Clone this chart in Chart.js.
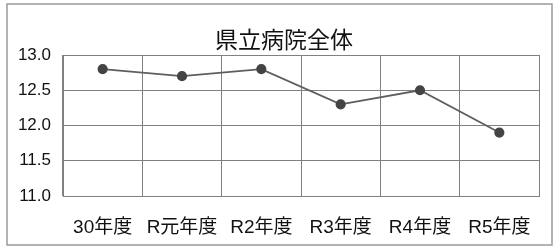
<!DOCTYPE html>
<html>
<head>
<meta charset="utf-8">
<script src="https://cdn.jsdelivr.net/npm/chart.js@4"></script>
<style>
    html, body { margin: 0; padding: 0; background: #fff; }
    #wrap { width: 560px; height: 248px; position: relative; }
</style>
</head>
<body>
<div id="wrap"><canvas id="hospChart" width="560" height="248"></canvas></div>
<script>
const years = ['30年度', 'R元年度', 'R2年度', 'R3年度', 'R4年度', 'R5年度'];
const values = [12.8, 12.7, 12.8, 12.3, 12.5, 11.9];
const yTicks = [11.0, 11.5, 12.0, 12.5, 13.0];
const chartTitle = '県立病院全体';

const FONT = '"Liberation Sans", "Noto Sans CJK JP", sans-serif';

// thin frame around the whole picture + title (sits a bit right of centre in the original)
const framePlugin = {
    id: 'frame',
    beforeDraw(chart) {
        const c = chart.ctx;
        c.save();
        c.fillStyle = '#fff';
        c.fillRect(0, 0, chart.width, chart.height);
        c.strokeStyle = '#9a9a9a';
        c.lineWidth = 1.5;
        c.strokeRect(7, 4, 545, 241);
        c.restore();
    },
    afterDraw(chart) {
        const c = chart.ctx;
        c.save();
        c.fillStyle = '#111';
        c.font = '23px ' + FONT;
        c.textAlign = 'center';
        c.textBaseline = 'middle';
        c.fillText(chartTitle, 284, 42);
        c.restore();
    }
};

const ctx = document.getElementById('hospChart').getContext('2d');

new Chart(ctx, {
    type: 'line',
    data: {
        labels: years,
        datasets: [{
            data: values,
            borderColor: '#5e5e5e',
            borderWidth: 1.8,
            pointRadius: 4.2,
            pointBackgroundColor: '#444',
            pointBorderColor: '#444',
            tension: 0
        }]
    },
    options: {
        responsive: false,
        animation: false,
        layout: {
            padding: { left: 0, right: 21, top: 55, bottom: 0 }
        },
        plugins: {
            legend: { display: false },
            tooltip: { enabled: false },
            title: { display: false }
        },
        scales: {
            x: {
                offset: true,
                grid: { offset: true, color: '#808080', drawTicks: false },
                border: { color: '#808080' },
                ticks: {
                    color: '#111',
                    padding: 20,
                    maxRotation: 0,
                    font: { family: FONT, size: 19 }
                },
                afterFit: (s) => { s.height = 52; }
            },
            y: {
                min: 11.0,
                max: 13.0,
                grid: { color: '#808080', drawTicks: false },
                border: { color: '#808080' },
                afterBuildTicks: (s) => { s.ticks = yTicks.map(v => ({ value: v })); },
                ticks: {
                    color: '#111',
                    padding: 12,
                    font: { family: FONT, size: 17 },
                    callback: (v) => Number(v).toFixed(1)
                },
                afterFit: (s) => { s.width = 63; }
            }
        }
    },
    plugins: [framePlugin]
});
</script>
</body>
</html>
